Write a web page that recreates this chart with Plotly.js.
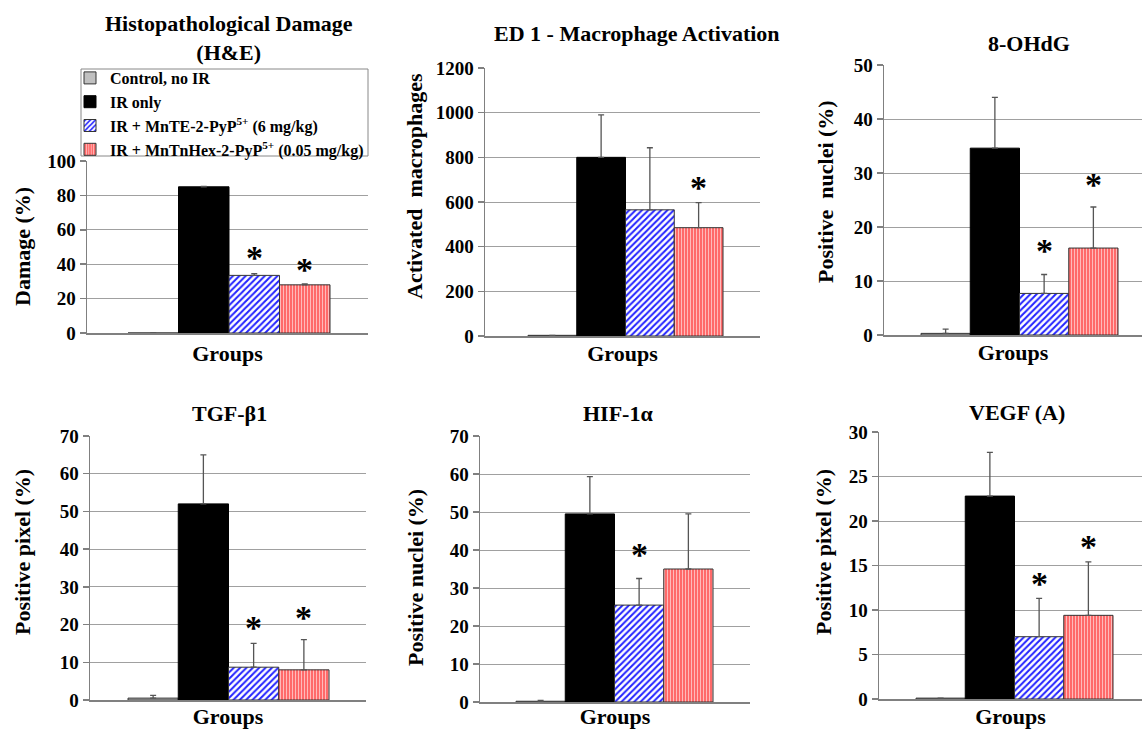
<!DOCTYPE html>
<html>
<head>
<meta charset="utf-8">
<script src="https://cdn.plot.ly/plotly-3.0.1.min.js"></script>
<style>html,body{margin:0;padding:0;background:#fff;}#chart{width:1142px;height:729px;}</style>
</head>
<body>
<div id="chart"></div>
<script>
// ---------- DATA ----------
const seriesNames = [
  'Control, no IR',
  'IR only',
  'IR + MnTE-2-PyP<sup>5+</sup> (6 mg/kg)',
  'IR + MnTnHex-2-PyP<sup>5+</sup> (0.05 mg/kg)'
];
const panelTitles = [
  'Histopathological Damage<br>(H&amp;E)',
  'ED 1 - Macrophage Activation',
  '8-OHdG',
  'TGF-β1',
  'HIF-1α',
  'VEGF (A)'
];
const yAxisTitles = [
  'Damage (%)',
  'Activated  macrophages',
  'Positive  nuclei (%)',
  'Positive pixel (%)',
  'Positive nuclei (%)',
  'Positive pixel (%)'
];
const xAxisTitle = 'Groups';
const yMax  = [100, 1200, 50, 70, 70, 30];
const yStep = [20, 200, 10, 10, 10, 5];

// one value per panel (H&E, ED1, 8-OHdG, TGF-b1, HIF-1a, VEGF)
const controlMean = [0,   3,   0.3,  0.5, 0.2,  0.1];
const controlErr  = [0,   0,   0.8,  0.7, 0.2,  0];
const irOnlyMean  = [85,  800, 34.6, 52,  49.5, 22.8];
const irOnlyErr   = [0.3, 190, 9.4,  13,  9.8,  4.9];
const mnteMean    = [33.5, 565, 7.7, 8.7, 25.5, 7.0];
const mnteErr     = [1.0, 278, 3.5,  6.3, 7.0,  4.3];
const mnhexMean   = [28,  485, 16.1, 8.0, 35,   9.4];
const mnhexErr    = [0.5, 112, 7.6,  8.0, 14.5, 6.0];

// significance marks (*): [panel, series index, y value]
const sigPanel  = [0,    0,    1,   2,    2,    3,    3,  4,  5,    5];
const sigSeries = [2,    3,    3,   2,    3,    2,    3,  2,  2,    3];
const sigY      = [46.5, 39.5, 685, 16.3, 28.7, 20.4, 23, 40, 13.4, 17.6];

// ---------- LAYOUT GEOMETRY (pixels) ----------
const W = 1142, H = 729;
const barGap = 0.3;
const boxes = [
  {l:87,  r:368,  t:161, b:333, gl:128, gr:330},
  {l:485, r:760,  t:68,  b:336, gl:528, gr:723},
  {l:884, r:1142, t:65,  b:335, gl:921, gr:1118},
  {l:90,  r:366,  t:436, b:700, gl:128, gr:329},
  {l:480, r:750,  t:436, b:702, gl:516, gr:713},
  {l:879, r:1142, t:432, b:699, gl:916, gr:1113}
];
const titlePos  = [[229,38],[637,33],[1029,43],[229,413],[618,413],[1017,412]];
const yTitlePos = [[23,247],[415,186],[825,192],[22,552],[415,578],[823,552]];
const xTitleStandoff = [12, 9, 9, 8, 6, 12];

const FONT = 'Liberation Serif, Times New Roman, serif';
const px2x = p => p / W;
const px2y = p => 1 - p / H;

const means = [controlMean, irOnlyMean, mnteMean, mnhexMean];
const errs  = [controlErr, irOnlyErr, mnteErr, mnhexErr];
const markers = [
  {color:'#c0c0c0', line:{color:'#333', width:1}},
  {color:'#000000', line:{color:'#000', width:1}},
  {color:'#ffffff', line:{color:'#333', width:1},
   pattern:{shape:'/', bgcolor:'#ffffff', fgcolor:'#2222ff', size:4.5, solidity:0.45, fillmode:'replace'}},
  {color:'#ff7a7a', line:{color:'#333', width:1},
   pattern:{shape:'|', bgcolor:'#ff6a6a', fgcolor:'#ffc4c4', size:3, solidity:0.3, fillmode:'replace'}}
];

const data = [];
const layout = {
  width: W, height: H,
  margin: {l:0, r:0, t:0, b:0},
  paper_bgcolor: '#fff', plot_bgcolor: 'rgba(0,0,0,0)',
  barmode: 'group', bargap: barGap, bargroupgap: 0,
  font: {family: FONT, color: '#000', weight: 'bold'},
  showlegend: true,
  legend: {
    x: px2x(70), y: px2y(61), xanchor: 'left', yanchor: 'top',
    bgcolor: 'rgba(0,0,0,0)', borderwidth: 0,
    font: {family: FONT, size: 16, color: '#000', weight: 'bold'},
    tracegroupgap: 0, itemwidth: 30
  },
  shapes: [{
    type: 'rect', xref: 'paper', yref: 'paper', layer: 'below',
    x0: px2x(81), x1: px2x(368), y0: px2y(69), y1: px2y(156),
    line: {color: '#888', width: 1}, fillcolor: '#fff'
  }],
  annotations: []
};

for (let p = 0; p < 6; p++) {
  const b = boxes[p];
  const sfx = p === 0 ? '' : String(p + 1);
  const ppu = (b.gr - b.gl) / (1 - barGap);
  const c = (b.gl + b.gr) / 2;
  const ticks = [];
  for (let v = 0; v <= yMax[p] + 1e-9; v += yStep[p]) ticks.push(v);

  for (let s = 0; s < 4; s++) {
    data.push({
      type: 'bar',
      name: seriesNames[s],
      legendgroup: 'g' + s,
      showlegend: p === 0,
      x: [xAxisTitle],
      y: [means[s][p]],
      xaxis: 'x' + sfx, yaxis: 'y' + sfx,
      marker: markers[s],
      error_y: {type:'data', symmetric:false, array:[errs[s][p]], arrayminus:[0],
                color:'#555', thickness:1.3, width:3},
      hoverinfo: 'y'
    });
  }

  layout['xaxis' + sfx] = {
    domain: [px2x(b.l), px2x(b.r)],
    anchor: 'y' + sfx,
    type: 'category',
    range: [(b.l - c) / ppu, (b.r - c) / ppu],
    showticklabels: false, ticks: '', showgrid: false, zeroline: false,
    showline: true, linecolor: '#808080', linewidth: 1.5,
    title: {text: xAxisTitle, standoff: xTitleStandoff[p], font: {family: FONT, size: 22, color: '#000', weight: 'bold'}},
    fixedrange: true
  };
  layout['yaxis' + sfx] = {
    domain: [px2y(b.b), px2y(b.t)],
    anchor: 'x' + sfx,
    range: [0, yMax[p]],
    tickvals: ticks,
    ticks: 'outside', ticklen: 6, tickcolor: '#808080', tickwidth: 1.5,
    showgrid: true, gridcolor: '#a0a0a0', gridwidth: 1,
    zeroline: false,
    showline: true, linecolor: '#808080', linewidth: 1.5,
    tickfont: {family: FONT, size: 19, color: '#000', weight: 'bold'},
    fixedrange: true
  };

  layout.annotations.push({
    xref: 'paper', yref: 'paper', x: px2x(titlePos[p][0]), y: px2y(titlePos[p][1]),
    xanchor: 'center', yanchor: 'middle', showarrow: false,
    text: panelTitles[p], font: {family: FONT, size: 22, color: '#000', weight: 'bold'}
  });
  layout.annotations.push({
    xref: 'paper', yref: 'paper', x: px2x(yTitlePos[p][0]), y: px2y(yTitlePos[p][1]),
    xanchor: 'center', yanchor: 'middle', showarrow: false, textangle: -90,
    text: yAxisTitles[p], font: {family: FONT, size: 22, color: '#000', weight: 'bold'}
  });
}

// significance asterisks above bars
const groupWidth = 1 - barGap;
for (let k = 0; k < sigY.length; k++) {
  const p = sigPanel[k];
  const sfx = p === 0 ? '' : String(p + 1);
  const off = -groupWidth / 2 + groupWidth / 4 * (sigSeries[k] + 0.5);
  layout.annotations.push({
    xref: 'x' + sfx, yref: 'y' + sfx, x: off, y: sigY[k],
    xanchor: 'center', yanchor: 'middle', showarrow: false, yshift: -4,
    text: '*', font: {family: FONT, size: 34, color: '#000', weight: 'bold'}
  });
}

Plotly.newPlot('chart', data, layout, {displayModeBar: false, staticPlot: true});
</script>
</body>
</html>
